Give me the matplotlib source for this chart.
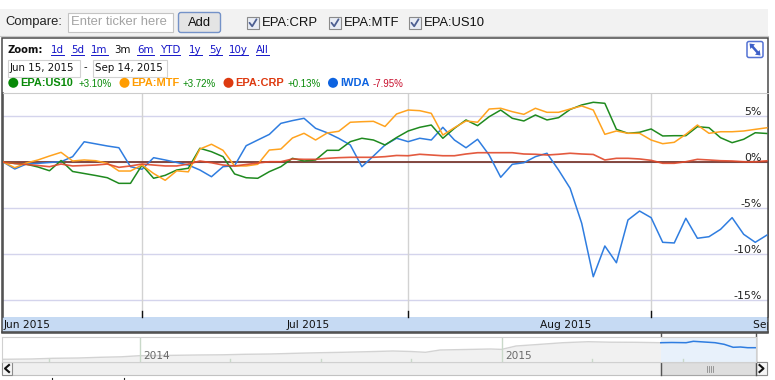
import matplotlib
matplotlib.use('Agg')
import matplotlib.pyplot as plt
from matplotlib.patches import Rectangle, FancyBboxPatch, Circle, Polygon
import matplotlib.transforms as mtransforms

# ---------------- data ----------------
series_names = ['EPA:US10', 'EPA:MTF', 'EPA:CRP', 'IWDA']
series_changes = ['+3.10%', '+3.72%', '+0.13%', '-7.95%']
compare_list = ['EPA:CRP', 'EPA:MTF', 'EPA:US10']
zoom_links = ['1d', '5d', '1m', '3m', '6m', 'YTD', '1y', '5y', '10y', 'All']
date_from = 'Jun 15, 2015'
date_to = 'Sep 14, 2015'

# percent change, one value per trading day (Jun 15 .. Sep 15, 2015)
iwda = [0, -0.76, -0.22, -0.15, -0.05, 0.03, 0.58, 2.2, 1.97, 1.74,
        1.55, -0.51, -0.79, 0.47, 0.22, -0.05, -0.33, -0.87, -1.6, -0.51,
        -0.4, 1.77, 2.39, 3.0, 4.2, 4.5, 4.75, 3.66, 3.18, 2.57,
        1.85, -0.51, 0.65, 1.85, 2.58, 2.21, 2.58, 2.39, 3.77, 2.39,
        1.55, 2.47, 0.76, -1.66, -0.25, -0.08, 0.58, 0.95, -0.87, -2.86,
        -6.66, -12.47, -9.13, -10.95, -6.3, -5.33, -6.05, -8.73, -8.8, -6.12,
        -8.29, -8.12, -7.32, -6.05, -7.86, -8.73, -7.95]
us10 = [0, -0.16, -0.24, -0.54, -0.95, 0.16, -1.03, -1.25, -1.47, -1.71,
        -2.32, -2.32, -0.33, -1.77, -1.45, -0.87, -0.68, 1.49, 1.12, 0.58,
        -1.3, -1.71, -1.77, -1.05, -0.51, 0.4, 0.11, 0.22, 1.27, 1.27,
        2.21, 2.58, 2.39, 1.85, 2.66, 3.37, 3.77, 4.02, 2.58, 3.66,
        4.57, 3.95, 4.92, 5.65, 4.75, 4.46, 5.11, 4.57, 4.82, 5.71,
        6.2, 6.49, 6.38, 3.55, 3.12, 3.23, 3.59, 2.83, 2.86, 2.86,
        3.84, 3.73, 2.64, 2.1, 2.47, 3.18, 3.10]
mtf = [0, -0.62, -0.11, 0.22, 0.65, 1.05, 0.11, 0.22, 0.14, -0.14,
       -0.98, -0.98, -0.33, -1.25, -1.99, -0.96, -1.07, 1.41, 1.93, 1.27,
       -0.43, -0.43, -0.25, 1.3, 1.41, 2.61, 3.12, 2.39, 3.15, 3.34,
       4.32, 4.38, 4.42, 3.86, 5.22, 5.65, 5.58, 5.29, 2.93, 3.73,
       4.46, 4.32, 5.76, 5.84, 5.47, 5.18, 5.84, 5.4, 5.4, 5.76,
       6.09, 5.65, 3.01, 3.37, 3.12, 3.12, 2.39, 1.99, 2.14, 3.01,
       4.02, 3.12, 3.29, 3.29, 3.37, 3.55, 3.72]
crp = [0, -0.16, -0.27, -0.38, -0.51, -0.22, -0.43, -0.38, -0.33, -0.22,
       -0.58, -0.43, -0.22, -0.33, -0.43, -0.43, -0.22, 0.11, -0.08, -0.33,
       -0.43, -0.27, -0.11, 0.03, 0.03, 0.33, 0.29, 0.29, 0.4, 0.47,
       0.51, 0.51, 0.51, 0.58, 0.71, 0.68, 0.84, 0.76, 0.68, 0.68,
       0.87, 1.01, 1.01, 1.01, 1.01, 0.87, 0.84, 0.76, 0.84, 0.95,
       0.87, 0.82, 0.22, 0.4, 0.4, 0.33, 0.18, -0.14, -0.14, 0.03,
       0.29, 0.22, 0.14, 0.11, 0.03, 0.03, 0.13]

y_ticks = [5, 0, -5, -10, -15]
y_tick_labels = ['5%', '0%', '-5%', '-10%', '-15%']
month_labels = ['Jun 2015', 'Jul 2015', 'Aug 2015', 'Sep 2015']
month_start_idx = [12, 35, 56]          # Jul 1, Aug 3, Sep 1 (trading-day index)
month_label_idx = [0, 24.5, 46.4, 64.8]

# navigator (long history)
nav_years = ['2014', '2015']
nav_t = [2013.62, 2013.70, 2013.76, 2013.83, 2013.89, 2013.95, 2014.00, 2014.08,
         2014.16, 2014.23, 2014.29, 2014.36, 2014.43, 2014.50, 2014.56, 2014.63,
         2014.70, 2014.75, 2014.79, 2014.83, 2014.90, 2014.97, 2015.00, 2015.04,
         2015.10, 2015.17, 2015.24, 2015.30, 2015.37, 2015.44]
nav_v = [2.7, 3.0, 3.7, 4.0, 4.7, 5.2, 6.3, 6.6, 7.0, 7.2, 7.7, 8.0, 8.7, 9.3,
         9.7, 10.3, 11.0, 10.5, 9.7, 12.0, 12.5, 13.0, 12.6, 16.0, 17.5, 19.3,
         20.3, 19.8, 19.7, 19.3]
sel_t = [2015.44, 2015.47, 2015.51, 2015.53, 2015.56, 2015.59, 2015.615,
         2015.64, 2015.66, 2015.68, 2015.703]
sel_v = [19.3, 19.5, 19.3, 20.7, 20.0, 19.3, 17.7, 14.7, 15.0, 14.3, 14.3]

# ---------------- styling ----------------
C_GREEN, C_ORANGE, C_RED, C_BLUE = '#1f8a1f', '#ffa31f', '#e0482a', '#2f7de0'
T_GREEN, T_ORANGE, T_RED, T_BLUE = '#088a08', '#ff9c00', '#dd3a10', '#0d63e0'

W, H = 775, 380
def fs(pxsize):
    return pxsize * 0.72

fig = plt.figure(figsize=(W / 100, H / 100), dpi=100)
fig.patch.set_facecolor('white')
ui = fig.add_axes([0, 0, 1, 1], zorder=0)
ui.set_xlim(0, W)
ui.set_ylim(H, 0)
ui.axis('off')

SANS = 'Liberation Sans'
VER = 'DejaVu Sans'

# ---- compare strip ----
ui.add_patch(Rectangle((0, 9), 768, 27, fc='#f2f2f2', ec='none'))
ui.plot([0, 768], [36.3, 36.3], color='#c8c8c8', lw=0.8)
ui.text(5, 22, 'Compare:', fontsize=fs(13), family=SANS, va='center', color='#222')
ui.add_patch(Rectangle((67.5, 12.5), 105, 19, fc='white', ec='#c4c4c4', lw=0.8))
ui.text(71, 22, 'Enter ticker here', fontsize=fs(13), family=SANS, va='center', color='#a3a3a3')
ui.add_patch(FancyBboxPatch((178.5, 12.5), 42, 20, boxstyle='round,pad=0,rounding_size=2.5',
                            fc='#e4e4e4', ec='#7492c8', lw=1.0))
ui.text(199.5, 22.5, 'Add', fontsize=fs(13), family=SANS, va='center', ha='center', color='#111')
for bx, lab in zip([247, 329, 409], compare_list):
    ui.add_patch(Rectangle((bx, 17), 12, 12, fc='#e9edf5', ec='#8a8a8a', lw=0.8))
    ui.plot([bx + 2.5, bx + 5.2, bx + 9.5], [22.8, 26.3, 19.3], color='#4d5f92', lw=1.3,
            solid_capstyle='round')
    ui.text(bx + 15, 23, lab, fontsize=fs(13), family=SANS, va='center', color='#111')

# ---- chart box ----
ui.add_patch(Rectangle((2, 37.5), 766, 295, fc='none', ec='#4a4a4a', lw=1.1, zorder=5))

# zoom row
ui.text(8, 50, 'Zoom:', fontsize=fs(10), family=VER, fontweight='bold', va='center', color='#111')
link_x = [51, 71, 91, 114, 137, 160, 189, 209, 229, 256]
renderer = fig.canvas.get_renderer()
for lx, lab in zip(link_x, zoom_links):
    col = '#111' if lab == '3m' else '#1515c8'
    t = ui.text(lx, 50, lab, fontsize=fs(10.2), family=VER, va='center', color=col)
    if lab != '3m':
        bb = t.get_window_extent(renderer)
        ui.plot([lx, lx + bb.width], [55.3, 55.3], color=col, lw=0.7)

# date boxes
ui.add_patch(Rectangle((7.5, 59.5), 72, 17, fc='white', ec='#d2d2d2', lw=0.8))
ui.text(10, 68, date_from, fontsize=fs(10.3), family=VER, va='center', color='#111')
ui.text(83.5, 67.5, '-', fontsize=fs(10), family=VER, va='center', color='#111')
ui.add_patch(Rectangle((92.5, 59.5), 74, 17, fc='white', ec='#d2d2d2', lw=0.8))
ui.text(95, 68, date_to, fontsize=fs(10.3), family=VER, va='center', color='#111')

# legend row
dot_x = [13.3, 124.5, 228.5, 333]
name_x = [20, 131, 235, 340]
pct_x = [79, 182.5, 287.5, 373]
name_c = [T_GREEN, T_ORANGE, T_RED, T_BLUE]
pct_c = [T_GREEN, T_GREEN, T_GREEN, '#c8102e']
for i in range(4):
    ui.add_patch(Circle((dot_x[i], 82.8), 5.0, color=name_c[i], lw=0))
    ui.text(name_x[i], 83.3, series_names[i], fontsize=fs(11.0), family=SANS, fontweight='bold',
            va='center', color=name_c[i])
    ui.text(pct_x[i], 84, series_changes[i], fontsize=fs(9.8), family=SANS,
            va='center', color=pct_c[i])

# expand icon
ui.add_patch(FancyBboxPatch((747, 41.5), 16, 16, boxstyle='round,pad=0,rounding_size=2',
                            fc='white', ec='#5472d3', lw=1.1))
ui.plot([751.5, 758.5], [45.5, 53.5], color='#3d5fc8', lw=1.8, solid_capstyle='butt')
ui.add_patch(Polygon([(749.5, 43.5), (755.0, 44.3), (750.3, 49.0)], closed=True,
                     fc='#3d5fc8', ec='none'))
ui.add_patch(Polygon([(760.5, 55.5), (755.0, 54.7), (759.7, 50.0)], closed=True,
                     fc='#3d5fc8', ec='none'))

# month band
ui.add_patch(Rectangle((2, 316.7), 766, 15.6, fc='#c6daf3', ec='none'))
ui.plot([2, 768], [332.3, 332.3], color='#4a4a4a', lw=1.1)

# ---------------- main plot ----------------
x0px, x1px, ytop, ybot = 3.0, 768.0, 93.0, 316.7
ax = fig.add_axes([x0px / W, (H - ybot) / H, (x1px - x0px) / W, (ybot - ytop) / H], zorder=2)
ax.set_facecolor('white')
step, off = 11.57, 3.2
ax.set_xlim((x0px - off) / step, (x1px - off) / step)
ax.set_ylim(-(ybot - 162) / 9.2, (162 - ytop) / 9.2)
for yv in y_ticks:
    ax.axhline(yv, color='#d4d4ec', lw=1.0, zorder=1)
for m in month_start_idx:
    ax.axvline(m, color='#d2d2d2', lw=1.0, zorder=1)
ax.axhline(0, color='#7a3a30', lw=1.3, zorder=2)
idx = list(range(len(iwda)))
ax.plot(idx, iwda, color=C_BLUE, lw=1.1, zorder=3)
ax.plot(idx, us10, color=C_GREEN, lw=1.1, zorder=3)
ax.plot(idx, mtf, color=C_ORANGE, lw=1.1, zorder=3)
ax.plot(idx, crp, color=C_RED, lw=1.2, zorder=3, alpha=0.9)
trans = mtransforms.blended_transform_factory(ax.transData, ax.transAxes)
for m in month_start_idx:
    ax.plot([m, m], [0, 0.026], color='#111', lw=1.0, transform=trans, zorder=4, clip_on=False)
for yv, lab in zip(y_ticks, y_tick_labels):
    ax.text(65.56, yv + 0.06, lab, ha='right', va='baseline', fontsize=fs(11), family=VER,
            color='#222', zorder=5)
ax.set_xticks([])
ax.set_yticks([])
for s in ['left', 'right']:
    ax.spines[s].set_color('#4a4a4a')
    ax.spines[s].set_linewidth(1.1)
ax.spines['top'].set_color('#cccccc')
ax.spines['top'].set_linewidth(0.8)
ax.spines['bottom'].set_visible(False)

# month labels (clipped to the band, like the reference where "Sep" is cut at the box edge)
band_clip = Rectangle((2, 316.7), 766, 15.6, transform=ui.transData, fc='none', ec='none')
for mi, lab in zip(month_label_idx, month_labels):
    xpx = off + mi * step
    t = ui.text(max(xpx, 3), 324.6, lab, fontsize=fs(10.6), family=VER, va='center',
                color='#111', zorder=6)
    t.set_clip_on(True)
    t.set_clip_path(band_clip)

# ---------------- navigator ----------------
nav = fig.add_axes([2 / W, (H - 362) / H, (756 - 2) / W, (362 - 337) / H], zorder=1)
nav.set_xlim(2013.62, 2015.703)
nav.set_ylim(0, 25)
nav.fill_between(nav_t, nav_v, 0, color='#f1f1f1', lw=0)
nav.plot(nav_t, nav_v, color='#d3d3d3', lw=1.0)
nav.axvspan(sel_t[0], sel_t[-1], color='#e8f1fb', lw=0)
nav.plot(sel_t, sel_v, color=C_BLUE, lw=1.1)
for yr, lab in zip([2014.0, 2015.0], nav_years):
    nav.axvline(yr, color='#c9d9c9', lw=1.0)
    nav.text(yr + 0.01, 6.3, lab, fontsize=fs(10.5), family=VER, color='#6a6a6a', va='center')
for q in [2013.75, 2014.25, 2014.5, 2014.75, 2015.25, 2015.5]:
    nav.plot([q, q], [0, 3.5], color='#c9d9c9', lw=1.0)
nav.set_xticks([])
nav.set_yticks([])
for s in nav.spines.values():
    s.set_color('#d0d0d0')
    s.set_linewidth(0.8)

# scrollbar
ui.add_patch(Rectangle((2, 362), 765, 13, fc='#efefef', ec='#c2c2c2', lw=0.8, zorder=3))
ui.add_patch(Rectangle((2, 362), 10, 13, fc='#f6f6f6', ec='#8c8c8c', lw=0.8, zorder=4))
ui.plot([9, 5, 9], [365, 368.5, 372], color='#111', lw=1.5, zorder=5)
ui.add_patch(Rectangle((756, 362), 11, 13, fc='#f6f6f6', ec='#8c8c8c', lw=0.8, zorder=4))
ui.plot([759.5, 763.5, 759.5], [365, 368.5, 372], color='#111', lw=1.5, zorder=5)
ui.add_patch(Rectangle((661, 362), 95, 13, fc='#dedede', ec='#a5a5a5', lw=0.8, zorder=4))
for gx in [706.5, 708.5, 710.5, 712.5]:
    ui.plot([gx, gx], [366, 371.5], color='#8a8a8a', lw=0.6, zorder=5)
ui.plot([661, 661], [332.3, 375], color='#555', lw=1.0, zorder=6)
ui.plot([756, 756], [332.3, 375], color='#555', lw=1.0, zorder=6)
for tx in [52, 124]:
    ui.plot([tx, tx], [377.5, 380], color='#222', lw=0.8)

fig.savefig('out.png', dpi=100, facecolor='white')
